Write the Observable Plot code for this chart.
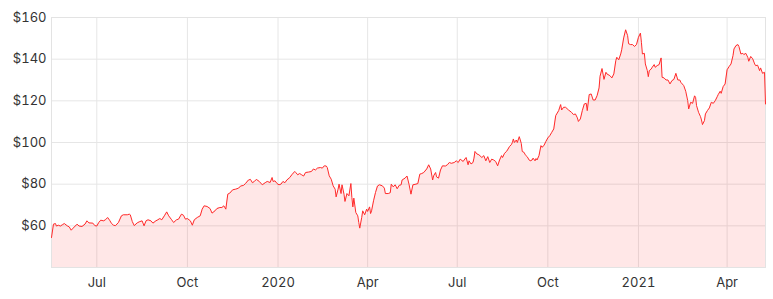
<!DOCTYPE html>
<html>
<head>
<meta charset="utf-8">
<script src="https://cdn.jsdelivr.net/npm/d3@7"></script>
<script src="https://cdn.jsdelivr.net/npm/@observablehq/plot@0.6"></script>
<style>
  html, body { margin: 0; padding: 0; background: #fff; }
  #chart { width: 773px; height: 299px; }
</style>
</head>
<body>
<div id="chart"></div>
<script>
const dates = [
"2019-05-16","2019-05-18","2019-05-20","2019-05-21","2019-05-23","2019-05-25","2019-05-27","2019-05-29",
"2019-06-01","2019-06-03","2019-06-05","2019-06-07","2019-06-11","2019-06-13","2019-06-16","2019-06-19",
"2019-06-21","2019-06-23","2019-06-27","2019-06-29","2019-07-01","2019-07-03","2019-07-05","2019-07-08",
"2019-07-10","2019-07-12","2019-07-14","2019-07-16","2019-07-18","2019-07-20","2019-07-23","2019-07-26",
"2019-07-28","2019-08-01","2019-08-03","2019-08-04","2019-08-06","2019-08-08","2019-08-11","2019-08-13",
"2019-08-16","2019-08-18","2019-08-20","2019-08-22","2019-08-25","2019-08-27","2019-08-30","2019-09-01",
"2019-09-03","2019-09-05","2019-09-08","2019-09-10","2019-09-12","2019-09-15","2019-09-17","2019-09-20",
"2019-09-22","2019-09-25","2019-09-27","2019-09-29","2019-10-01","2019-10-04","2019-10-06","2019-10-08",
"2019-10-11","2019-10-14","2019-10-16","2019-10-18","2019-10-21","2019-10-24","2019-10-26","2019-10-29",
"2019-10-31","2019-11-03","2019-11-05","2019-11-07","2019-11-09","2019-11-11","2019-11-13","2019-11-16",
"2019-11-19","2019-11-22","2019-11-24","2019-11-27","2019-11-29","2019-12-02","2019-12-04","2019-12-06",
"2019-12-08","2019-12-10","2019-12-13","2019-12-16","2019-12-19","2019-12-21","2019-12-24","2019-12-26",
"2019-12-27","2019-12-29","2019-12-31","2020-01-02","2020-01-04","2020-01-06","2020-01-08","2020-01-10",
"2020-01-13","2020-01-15","2020-01-18","2020-01-19","2020-01-21","2020-01-23","2020-01-25","2020-01-27",
"2020-01-29","2020-02-01","2020-02-04","2020-02-06","2020-02-08","2020-02-10","2020-02-13","2020-02-15",
"2020-02-17","2020-02-19","2020-02-20","2020-02-22","2020-02-24","2020-02-26","2020-02-28","2020-02-29",
"2020-03-02","2020-03-03","2020-03-05","2020-03-06","2020-03-08","2020-03-09","2020-03-11","2020-03-13",
"2020-03-15","2020-03-16","2020-03-17","2020-03-18","2020-03-20","2020-03-22","2020-03-23","2020-03-24",
"2020-03-26","2020-03-27","2020-03-29","2020-03-31","2020-04-01","2020-04-03","2020-04-04","2020-04-05",
"2020-04-07","2020-04-09","2020-04-11","2020-04-13","2020-04-16","2020-04-18","2020-04-19","2020-04-22",
"2020-04-24","2020-04-25","2020-04-27","2020-04-29","2020-05-01","2020-05-03","2020-05-05","2020-05-06",
"2020-05-09","2020-05-11","2020-05-13","2020-05-15","2020-05-17","2020-05-20","2020-05-22","2020-05-24",
"2020-05-26","2020-05-28","2020-05-31","2020-06-02","2020-06-04","2020-06-06","2020-06-07","2020-06-09",
"2020-06-10","2020-06-12","2020-06-14","2020-06-16","2020-06-19","2020-06-21","2020-06-23","2020-06-25",
"2020-06-28","2020-06-30","2020-07-02","2020-07-04","2020-07-07","2020-07-08","2020-07-10","2020-07-12",
"2020-07-13","2020-07-15","2020-07-17","2020-07-18","2020-07-19","2020-07-21","2020-07-23","2020-07-26",
"2020-07-28","2020-07-30","2020-08-01","2020-08-03","2020-08-05","2020-08-07","2020-08-09","2020-08-11",
"2020-08-13","2020-08-15","2020-08-16","2020-08-18","2020-08-20","2020-08-21","2020-08-23","2020-08-25",
"2020-08-26","2020-08-27","2020-08-28","2020-08-30","2020-08-31","2020-09-02","2020-09-04","2020-09-05",
"2020-09-07","2020-09-08","2020-09-10","2020-09-12","2020-09-13","2020-09-15","2020-09-16","2020-09-18",
"2020-09-19","2020-09-20","2020-09-22","2020-09-24","2020-09-25","2020-09-27","2020-09-29","2020-10-01",
"2020-10-03","2020-10-05","2020-10-07","2020-10-09","2020-10-10","2020-10-12","2020-10-14","2020-10-15",
"2020-10-17","2020-10-19","2020-10-22","2020-10-25","2020-10-27","2020-10-29","2020-10-31","2020-11-01",
"2020-11-03","2020-11-05","2020-11-07","2020-11-09","2020-11-10","2020-11-12","2020-11-14","2020-11-16",
"2020-11-18","2020-11-20","2020-11-22","2020-11-23","2020-11-25","2020-11-27","2020-11-29","2020-11-30",
"2020-12-03","2020-12-05","2020-12-07","2020-12-09","2020-12-10","2020-12-12","2020-12-14","2020-12-15",
"2020-12-17","2020-12-19","2020-12-21","2020-12-22","2020-12-24","2020-12-26","2020-12-28","2020-12-30",
"2021-01-01","2021-01-03","2021-01-04","2021-01-05","2021-01-07","2021-01-08","2021-01-10","2021-01-11",
"2021-01-12","2021-01-14","2021-01-15","2021-01-17","2021-01-18","2021-01-20","2021-01-22","2021-01-24",
"2021-01-25","2021-01-27","2021-01-29","2021-01-31","2021-02-02","2021-02-04","2021-02-06","2021-02-08",
"2021-02-10","2021-02-12","2021-02-13","2021-02-16","2021-02-18","2021-02-20","2021-02-21","2021-02-23",
"2021-02-25","2021-02-27","2021-02-28","2021-03-01","2021-03-03","2021-03-05","2021-03-06","2021-03-07",
"2021-03-09","2021-03-10","2021-03-12","2021-03-14","2021-03-16","2021-03-18","2021-03-20","2021-03-22",
"2021-03-23","2021-03-25","2021-03-26","2021-03-28","2021-03-30","2021-04-01","2021-04-03","2021-04-05",
"2021-04-07","2021-04-08","2021-04-10","2021-04-12","2021-04-13","2021-04-15","2021-04-17","2021-04-18",
"2021-04-20","2021-04-22","2021-04-23","2021-04-25","2021-04-27","2021-04-29","2021-04-30","2021-05-02",
"2021-05-04","2021-05-05","2021-05-07","2021-05-09","2021-05-10"
];

const prices = [
54.4,60.8,61.1,59.9,60.3,59.9,60.5,61.1,
60.0,59.5,57.9,58.9,60.8,59.9,59.7,60.8,
62.4,61.4,61.3,60.1,59.9,61.6,62.7,62.4,
63.0,64.0,62.7,61.1,60.3,60.1,61.6,64.8,
65.3,65.3,65.6,65.3,62.1,60.1,61.4,61.9,
62.4,60.0,62.4,62.9,62.4,61.3,62.4,62.9,
63.5,62.9,65.1,66.7,64.8,62.9,61.6,62.9,
63.2,65.6,65.1,63.2,63.5,62.4,60.3,62.9,
64.0,64.8,68.0,69.6,69.3,68.3,66.1,67.2,
68.3,68.8,68.8,69.6,68.0,75.2,75.7,77.3,
77.6,78.1,79.1,79.4,80.3,82.0,82.3,80.7,
81.3,82.3,81.3,79.7,80.7,81.3,80.8,83.2,
81.3,81.6,80.3,79.7,80.0,81.3,80.7,82.0,
83.2,84.5,86.1,85.6,84.5,85.1,84.5,83.9,
85.6,85.8,86.1,87.3,86.8,87.7,88.0,87.7,
88.8,88.7,88.0,84.0,82.4,79.2,77.6,73.9,
77.6,80.0,75.5,79.7,75.2,71.7,75.5,74.4,
80.3,73.6,69.1,73.3,66.4,64.8,61.6,58.9,
64.0,67.2,65.3,68.0,66.9,69.1,65.9,67.2,
72.0,76.0,79.1,79.7,79.2,78.1,75.5,75.5,
75.9,80.0,78.7,79.7,77.8,79.4,79.7,82.0,
82.9,83.9,80.0,75.2,79.7,80.0,80.3,84.8,
85.1,85.6,87.3,89.3,87.3,82.0,84.0,85.6,
83.5,82.9,86.8,88.8,88.7,89.3,90.4,90.0,
90.4,91.2,90.4,92.0,90.9,91.6,92.8,89.3,
91.2,89.7,90.4,92.5,95.7,94.5,94.1,92.8,
93.7,91.2,93.2,90.4,92.0,91.6,90.9,88.8,
91.6,93.7,92.8,94.8,95.7,96.4,98.0,99.0,
100.0,101.7,100.0,101.2,100.0,102.8,99.6,95.7,
95.2,94.1,93.2,91.6,91.2,91.6,92.5,91.2,
92.3,91.6,93.7,98.5,97.7,98.5,100.5,102.2,
103.3,104.9,106.5,112.9,113.7,115.3,118.2,115.6,
116.9,116.9,115.6,114.5,113.4,113.7,111.8,110.1,
111.3,115.3,118.5,118.8,115.3,123.0,123.3,120.4,
120.4,122.5,126.2,131.8,135.5,130.3,133.7,132.9,
132.1,131.0,132.9,139.3,140.9,139.7,142.5,144.5,
150.2,154.1,151.3,147.4,147.0,147.0,146.1,147.0,
150.5,152.5,148.1,142.5,142.8,137.7,134.5,131.6,
134.5,135.3,136.1,137.4,136.1,136.9,137.4,140.6,
131.3,131.0,130.0,130.0,128.1,129.7,130.3,133.2,
130.0,130.0,128.9,127.3,124.6,120.1,116.1,119.3,
118.8,122.4,121.7,117.7,114.5,112.4,110.8,108.6,
110.5,113.7,115.3,116.6,119.3,118.8,120.1,122.0,
123.0,124.6,123.6,126.8,128.1,134.9,136.4,137.7,
141.7,144.9,146.5,147.0,146.1,142.5,142.8,142.2,
142.8,140.9,139.0,141.3,140.2,137.7,136.9,137.1,
134.5,135.8,133.2,133.7,118.5
];

const yTicks = [60, 80, 100, 120, 140, 160];
const xTickDates = ["2019-07-01","2019-10-01","2020-01-01","2020-04-01","2020-07-01","2020-10-01","2021-01-01","2021-04-01"];
const yBase = 40;
const yTop = 160;

const data = dates.map((d, i) => ({date: new Date(d + "T00:00:00Z"), price: prices[i]}));
const xTicks = xTickDates.map(d => new Date(d + "T00:00:00Z"));
const monthFmt = d3.utcFormat("%b");
const yearFmt = d3.utcFormat("%Y");

const chart = Plot.plot({
  width: 773,
  height: 299,
  marginLeft: 51,
  marginRight: 8,
  marginTop: 17,
  marginBottom: 32,
  style: {fontFamily: "Inter, 'Noto Sans', sans-serif", fontSize: "13px", color: "#333", background: "#fff"},
  x: {
    type: "utc",
    domain: [data[0].date, data[data.length - 1].date],
    ticks: xTicks,
    tickSize: 0,
    tickPadding: 10,
    tickFormat: d => d.getUTCMonth() === 0 ? yearFmt(d) : monthFmt(d),
    label: null
  },
  y: {
    domain: [yBase, yTop],
    ticks: yTicks,
    tickSize: 0,
    tickPadding: 5,
    tickFormat: d => "$" + d,
    label: null
  },
  marks: [
    Plot.ruleY(yTicks, {stroke: "#e6e6e6", strokeWidth: 1}),
    Plot.ruleX(xTicks, {stroke: "#e6e6e6", strokeWidth: 1}),
    Plot.areaY(data, {x: "date", y1: yBase, y2: "price", fill: "#ff2020", fillOpacity: 0.11}),
    Plot.frame({stroke: "#e3e3e3"}),
    Plot.lineY(data, {x: "date", y: "price", stroke: "#ff2a2a", strokeWidth: 1})
  ]
});
document.getElementById("chart").appendChild(chart);
</script>
</body>
</html>
